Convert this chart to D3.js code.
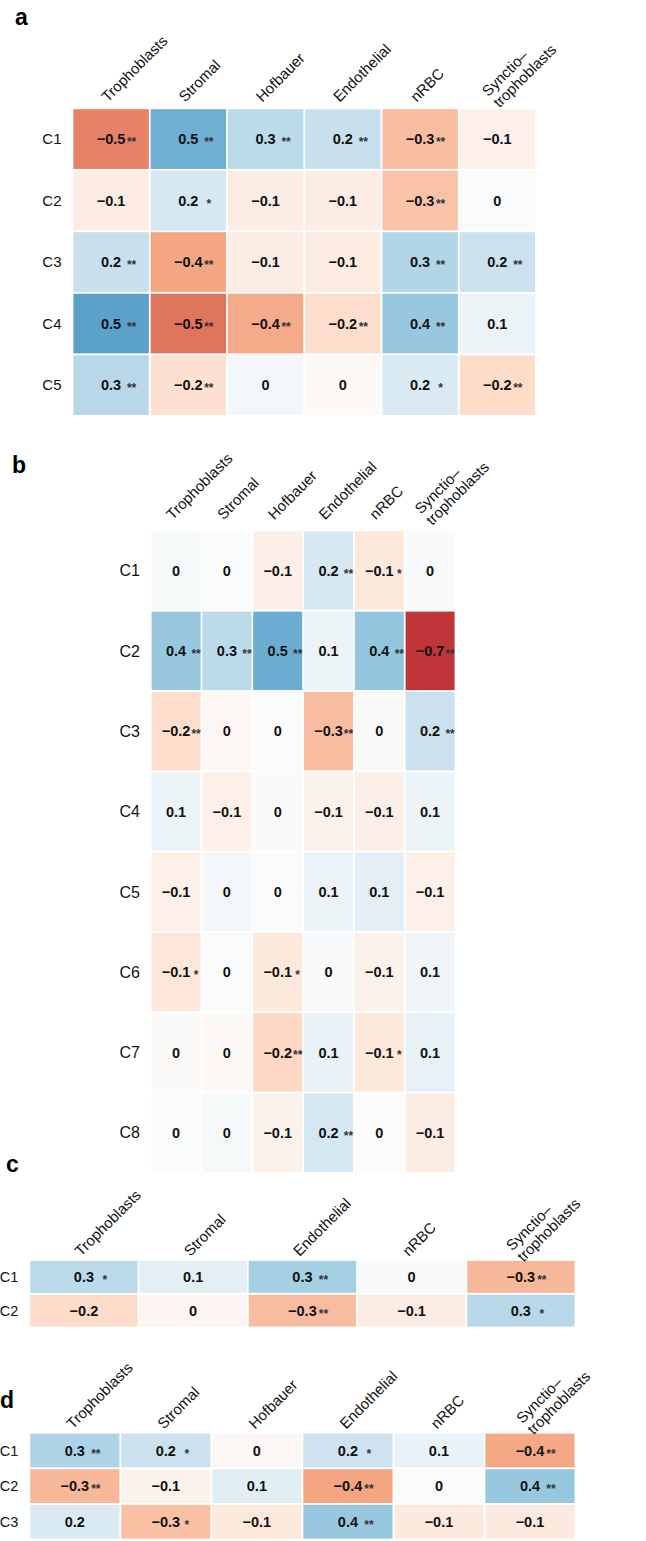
<!DOCTYPE html>
<html><head><meta charset="utf-8">
<script src="https://cdn.jsdelivr.net/npm/d3@7"></script>
<style>
body{margin:0;background:#fff}
svg{display:block}
text{font-family:"Liberation Sans",Arial,Helvetica,sans-serif}
</style>
</head><body>
<svg id="chart" width="646" height="1541"></svg>
<script>
// ---------------- data ----------------
const colsFull = ["Trophoblasts","Stromal","Hofbauer","Endothelial","nRBC","Synctio–\ntrophoblasts"];
const colsC = ["Trophoblasts","Stromal","Endothelial","nRBC","Synctio–\ntrophoblasts"];

const rowsA = ["C1","C2","C3","C4","C5"];
const valuesA = [
  [-0.50, 0.49, 0.27, 0.23, -0.31, -0.07],
  [-0.10, 0.17, -0.09, -0.09, -0.29, 0.01],
  [0.23, -0.40, -0.09, -0.10, 0.30, 0.22],
  [0.54, -0.54, -0.38, -0.18, 0.38, 0.08],
  [0.28, -0.17, 0.04, -0.02, 0.16, -0.19]
];
const starsA = [
  ["**","**","**","**","**",""],
  ["","*","","","**",""],
  ["**","**","","","**","**"],
  ["**","**","**","**","**",""],
  ["**","**","","","*","**"]
];

const rowsB = ["C1","C2","C3","C4","C5","C6","C7","C8"];
const valuesB = [
  [0.03, 0.01, -0.08, 0.17, -0.12, 0.02],
  [0.38, 0.27, 0.50, 0.08, 0.40, -0.72],
  [-0.18, -0.03, 0.01, -0.31, -0.01, 0.22],
  [0.08, -0.07, 0.02, -0.06, -0.08, 0.07],
  [-0.07, 0.04, 0.01, 0.08, 0.11, -0.07],
  [-0.13, 0.01, -0.12, 0.02, -0.06, 0.06],
  [-0.01, -0.02, -0.21, 0.09, -0.12, 0.10],
  [0.01, 0.03, -0.06, 0.18, 0.00, -0.09]
];
const starsB = [
  ["","","","**","*",""],
  ["**","**","**","","**","**"],
  ["**","","","**","","**"],
  ["","","","","",""],
  ["","","","","",""],
  ["*","","*","","",""],
  ["","","**","","*",""],
  ["","","","**","",""]
];

const rowsC = ["C1","C2"];
const valuesC = [
  [0.27, 0.11, 0.34, 0.02, -0.33],
  [-0.19, -0.04, -0.31, -0.09, 0.28]
];
const starsC = [
  ["*","","**","","**"],
  ["","","**","","*"]
];

const rowsD = ["C1","C2","C3"];
const valuesD = [
  [0.31, 0.22, -0.03, 0.21, 0.09, -0.39],
  [-0.33, -0.06, 0.12, -0.40, 0.01, 0.38],
  [0.16, -0.30, -0.12, 0.38, -0.11, -0.11]
];
const starsD = [
  ["**","*","","*","","**"],
  ["**","","","**","","**"],
  ["","*","","**","",""]
];

// ---------------- colour ----------------
const rdbu = ["#67001f","#b2182b","#d6604d","#f4a582","#fddbc7","#fcfcfc","#d1e5f0","#92c5de","#4393c3","#2166ac","#053061"];
const color = d3.scaleLinear()
  .domain(d3.range(11).map(i => -1 + i * 0.2))
  .range(rdbu)
  .interpolate(d3.interpolateRgb)
  .clamp(true);
const fmt = d3.format(".1~f");

const svg = d3.select("#chart");

function panel(cfg, rows, cols, values, stars) {
  const g = svg.append("g");
  const x = d3.scaleBand().domain(cols).range([cfg.x0, cfg.x1]);
  const y = d3.scaleBand().domain(rows).range([cfg.y0, cfg.y1]);
  const gap = cfg.gap;

  g.append("text").text(cfg.title)
    .attr("x", cfg.tx).attr("y", cfg.ty)
    .attr("font-size", 23).attr("font-weight", "bold").attr("fill", "#000");

  const cells = [];
  rows.forEach((r, i) => cols.forEach((c, j) =>
    cells.push({r, c, v: values[i][j], s: stars[i][j]})));

  g.selectAll("rect.cell").data(cells).join("rect")
    .attr("class", "cell")
    .attr("x", d => x(d.c) + gap / 2)
    .attr("y", d => y(d.r) + gap / 2)
    .attr("width", x.bandwidth() - gap)
    .attr("height", y.bandwidth() - gap)
    .attr("fill", d => color(d.v));

  g.selectAll("text.val").data(cells).join("text")
    .attr("class", "val")
    .attr("x", d => x(d.c) + x.bandwidth() / 2)
    .attr("y", d => y(d.r) + y.bandwidth() / 2 + cfg.valFs * 0.36)
    .attr("text-anchor", "middle")
    .attr("font-size", cfg.valFs).attr("font-weight", "bold").attr("fill", "#111")
    .text(d => fmt(d.v));

  g.selectAll("text.star").data(cells.filter(d => d.s)).join("text")
    .attr("class", "star")
    .attr("x", d => x(d.c) + x.bandwidth() / 2 + cfg.starDx)
    .attr("y", d => y(d.r) + y.bandwidth() / 2 + 7)
    .attr("text-anchor", "middle")
    .attr("font-size", 12).attr("font-weight", "bold").attr("fill", "#333")
    .text(d => d.s);

  g.selectAll("text.row").data(rows).join("text")
    .attr("class", "row")
    .attr("x", cfg.x0 - cfg.rowGap)
    .attr("y", d => y(d) + y.bandwidth() / 2 + cfg.rowFs * 0.36)
    .attr("text-anchor", "end")
    .attr("font-size", cfg.rowFs).attr("fill", "#111")
    .text(d => d);

  const lab = g.selectAll("text.col").data(cols).join("text")
    .attr("class", "col")
    .attr("transform", d => `translate(${x(d) + x.bandwidth() / 2 + cfg.labDx},${cfg.y0 - cfg.labGap}) rotate(-45)`)
    .attr("font-size", cfg.labFs).attr("fill", "#111");
  lab.each(function(d) {
    const lines = d.split("\n");
    const n = lines.length;
    d3.select(this).selectAll("tspan").data(lines).join("tspan")
      .attr("x", 0)
      .attr("y", (l, i) => (i - (n - 1) / 2) * cfg.labFs * 1.05)
      .text(l => l);
  });
}

panel({title:"a", tx:15, ty:25, x0:72.5, x1:536, y0:108.3, y1:415.8, gap:1.8,
       valFs:14.5, starDx:20.5, rowFs:15, rowGap:11, labFs:15, labDx:-3.5, labGap:5.5},
      rowsA, colsFull, valuesA, starsA);
panel({title:"b", tx:12, ty:473, x0:150.7, x1:455.5, y0:530.4, y1:1172.8, gap:1.8,
       valFs:14.5, starDx:20, rowFs:16, rowGap:10.7, labFs:15, labDx:-3.5, labGap:10},
      rowsB, colsFull, valuesB, starsB);
panel({title:"c", tx:6, ty:1172, x0:29.3, x1:575.5, y0:1260, y1:1327.5, gap:1.8,
       valFs:14.5, starDx:21, rowFs:14.5, rowGap:11, labFs:15, labDx:-3, labGap:3},
      rowsC, colsC, valuesC, starsC);
panel({title:"d", tx:0, ty:1408, x0:29.3, x1:575.5, y0:1432.7, y1:1539.5, gap:1.8,
       valFs:14.5, starDx:21, rowFs:14.5, rowGap:11, labFs:15, labDx:-2, labGap:3},
      rowsD, colsFull, valuesD, starsD);
</script>
</body></html>
